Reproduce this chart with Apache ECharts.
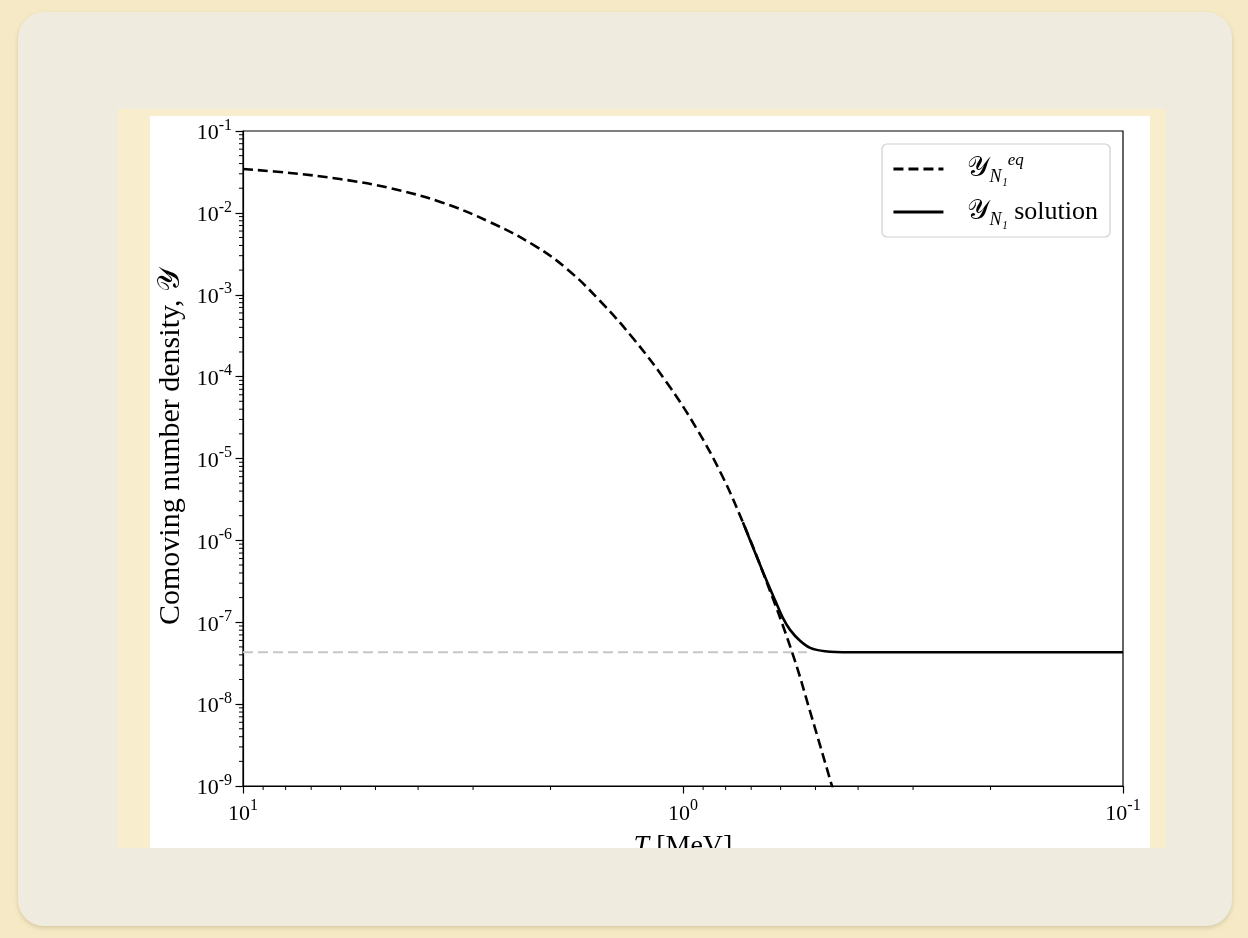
<!DOCTYPE html>
<html>
<head>
<meta charset="utf-8">
<script src="https://cdn.jsdelivr.net/npm/echarts@6/dist/echarts.min.js"></script>
<style>
  html, body { margin: 0; padding: 0; width: 1248px; height: 938px; overflow: hidden; background: #f6eac6; }
  #card { position: absolute; left: 18px; top: 12px; width: 1214px; height: 914px; background: #efebdf; border-radius: 26px; box-shadow: 0 2px 4px rgba(120, 100, 60, 0.25); }
  #frame { position: absolute; left: 117px; top: 109px; width: 1048px; height: 739px; background: #f8eecd; }
  #clip { position: absolute; left: 150px; top: 116px; width: 1000px; height: 732px; overflow: hidden; background: #fff; }
  #chart { width: 1000px; height: 780px; }
</style>
</head>
<body>
<div id="card"></div>
<div id="frame"></div>
<div id="clip"><div id="chart"></div></div>
<script>
// temperature T [MeV] and comoving number density
const eqT = [10, 7.82, 6.02, 4.64, 3.56, 2.75, 2.17, 1.83, 1.545, 1.30, 1.087, 0.929, 0.811, 0.731, 0.658, 0.565, 0.509, 0.4585, 0.435];
const eqY = [0.0343, 0.0307, 0.0259, 0.0201, 0.0136, 0.00774, 0.00396, 0.00204, 8.45e-4, 2.96e-4, 8.38e-5, 2.27e-5, 5.86e-6, 1.66e-6, 4.06e-7, 4.31e-8, 6.73e-9, 9.96e-10, 3.77e-10];

const solT = [0.731, 0.658, 0.618, 0.593, 0.571, 0.542, 0.514, 0.4755, 0.4173, 0.321, 0.2, 0.1];
const solY = [1.66e-6, 4.12e-7, 1.87e-7, 1.13e-7, 8.07e-8, 5.93e-8, 4.86e-8, 4.42e-8, 4.30e-8, 4.30e-8, 4.30e-8, 4.30e-8];

// frozen-out asymptote (grey dashed)
const refT = [10, 0.523];
const refY = [4.30e-8, 4.30e-8];

const serif = '"Liberation Serif", "DejaVu Serif", serif';
const pair = (xs, ys) => xs.map((x, i) => [x, ys[i]]);

const tickRich = {
  b: { fontFamily: serif, fontSize: 22, color: '#000', lineHeight: 27, verticalAlign: 'bottom' },
  e: { fontFamily: serif, fontSize: 16, color: '#000', lineHeight: 16, verticalAlign: 'top' }
};
const powLabel = v => '{b|10}{e|' + Math.round(Math.log10(v)) + '}';

const chart = echarts.init(document.getElementById('chart'));
chart.setOption({
  animation: false,
  backgroundColor: '#fff',
  grid: {
    left: 93, top: 15, right: 27, bottom: 110, outerBoundsMode: 'none', containLabel: false,
    show: true, borderColor: '#000', borderWidth: 1.2
  },
  legend: {
    data: ['eq', 'sol'],
    orient: 'vertical',
    right: 40,
    top: 28,
    backgroundColor: '#fff',
    borderColor: '#cfcfcf',
    borderWidth: 1.2,
    borderRadius: 5,
    padding: [8, 12, 8, 10],
    itemWidth: 50,
    itemHeight: 14,
    itemGap: 12,
    itemStyle: { opacity: 0 },
    lineStyle: { width: 2.8 },
    textStyle: {
      fontFamily: serif, fontSize: 26, color: '#000',
      rich: {
        y: { fontFamily: serif, fontSize: 28, color: '#000', padding: [0, 0, 0, 19], lineHeight: 34 },
        sub: { fontFamily: serif, fontSize: 18, fontStyle: 'italic', color: '#000', verticalAlign: 'bottom', lineHeight: 17 },
        sup: { fontFamily: serif, fontSize: 17, fontStyle: 'italic', color: '#000', verticalAlign: 'top', lineHeight: 17 },
        t: { fontFamily: serif, fontSize: 26, color: '#000', lineHeight: 34 }
      }
    },
    formatter: name => name === 'eq' ? '{y|𝒴}{sub|N₁}{sup|eq}' : '{y|𝒴}{sub|N₁}{t| solution}'
  },
  xAxis: {
    type: 'log',
    logBase: 10,
    min: 0.1,
    max: 10,
    inverse: true,
    name: '{i|T} [MeV]',
    nameLocation: 'middle',
    nameGap: 47,
    nameTextStyle: {
      fontFamily: serif, fontSize: 28, color: '#000',
      rich: { i: { fontFamily: serif, fontSize: 28, fontStyle: 'italic', color: '#000' } }
    },
    axisLine: { lineStyle: { color: '#000', width: 1.2 } },
    axisTick: { inside: false, length: 7.5, lineStyle: { color: '#000', width: 1.2 } },
    axisLabel: { margin: 12, formatter: powLabel, rich: tickRich },
    splitLine: { show: false }
  },
  yAxis: {
    type: 'log',
    logBase: 10,
    min: 1e-9,
    max: 1e-1,
    name: 'Comoving number density, 𝒴',
    nameLocation: 'middle',
    nameRotate: 90,
    nameGap: 57,
    nameTextStyle: { fontFamily: serif, fontSize: 30, color: '#000', padding: [0, 0, 0, 24] },
    axisLine: { lineStyle: { color: '#000', width: 1.2 } },
    axisTick: { inside: false, length: 7.5, lineStyle: { color: '#000', width: 1.2 } },
    axisLabel: { margin: 11, formatter: powLabel, rich: tickRich },
    splitLine: { show: false }
  },
  series: [
    {
      name: 'ref', type: 'line', data: pair(refT, refY), symbol: 'none', z: 1,
      lineStyle: { color: '#c6c6c6', width: 2.2, type: [10, 5] }
    },
    {
      name: 'eq', type: 'line', data: pair(eqT, eqY), symbol: 'none', smooth: 0.4, z: 3,
      lineStyle: { color: '#000', width: 2.6, type: [10, 5] }
    },
    {
      name: 'sol', type: 'line', data: pair(solT, solY), symbol: 'none', smooth: 0.3, z: 2,
      lineStyle: { color: '#000', width: 2.6 }
    }
  ]
});

// log-style minor ticks (2..9 of every decade), placed with the axes' own scales
const minor = [];
const yBase = chart.convertToPixel({ yAxisIndex: 0 }, 1e-9);
const xBase = chart.convertToPixel({ xAxisIndex: 0 }, 10);
for (let k = -1; k < 1; k++) {
  for (let m = 2; m < 10; m++) {
    const px = chart.convertToPixel({ xAxisIndex: 0 }, m * Math.pow(10, k));
    minor.push({ type: 'line', silent: true, shape: { x1: px, y1: yBase, x2: px, y2: yBase + 4 }, style: { stroke: '#000', lineWidth: 1 } });
  }
}
for (let k = -9; k < -1; k++) {
  for (let m = 2; m < 10; m++) {
    const py = chart.convertToPixel({ yAxisIndex: 0 }, m * Math.pow(10, k));
    minor.push({ type: 'line', silent: true, shape: { x1: xBase, y1: py, x2: xBase - 4, y2: py }, style: { stroke: '#000', lineWidth: 1 } });
  }
}
chart.setOption({ graphic: minor });
</script>
</body>
</html>
